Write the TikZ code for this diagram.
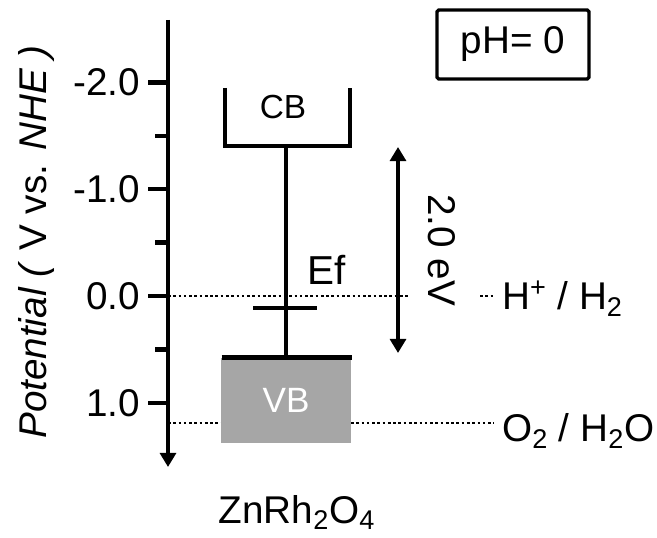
\documentclass[tikz,border=0pt]{standalone}
\usepackage{fontspec}
\setmainfont{Liberation Sans}
\usetikzlibrary{arrows.meta}

\begin{document}
\begin{tikzpicture}[>={Triangle[length=8pt,width=9pt]},line cap=butt,
  lbl/.style={font=\fontsize{22}{26}\selectfont},
  ticklbl/.style={font=\fontsize{22}{26}\selectfont,anchor=east},
  bandline/.style={line width=2.5pt},
  dotline/.style={line width=1.6pt,dash pattern=on 1.5pt off 1.5pt}]
\useasboundingbox (0,0) rectangle (13.14,10.74);
% potential axis
\coordinate (ytop) at (3.36,10.34);
\coordinate (ybot) at (3.36,1.40);
\draw[->,line width=2.5pt] (ytop) -- (ybot);
\draw[line width=2.5pt] (2.96,9.092) -- (3.36,9.092);
\draw[line width=2.5pt] (3.10,8.024) -- (3.36,8.024);
\draw[line width=2.5pt] (2.96,6.956) -- (3.36,6.956);
\draw[line width=2.5pt] (3.10,5.888) -- (3.36,5.888);
\draw[line width=2.5pt] (2.96,4.820) -- (3.36,4.820);
\draw[line width=2.5pt] (3.10,3.752) -- (3.36,3.752);
\draw[line width=2.5pt] (2.96,2.684) -- (3.36,2.684);
\node[ticklbl] (tm2) at (2.92,9.092) {-2.0};
\node[ticklbl] (tm1) at (2.92,6.956) {-1.0};
\node[ticklbl] (t0) at (2.92,4.820) {0.0};
\node[ticklbl] (t1) at (2.92,2.684) {1.0};
\node[lbl,rotate=90] (ylabel) at (0.72,5.90) {\textit{Potential (} V vs. \textit{NHE )}};
% redox levels
\coordinate (h0) at (3.36,4.82);
\coordinate (h1) at (8.16,4.82);
\coordinate (h2) at (9.60,4.82);
\coordinate (h3) at (9.88,4.82);
\coordinate (o0) at (3.36,2.28);
\coordinate (o1) at (4.42,2.28);
\coordinate (o2) at (7.02,2.28);
\coordinate (o3) at (9.88,2.28);
\draw[dotline] (h0) -- (h1);
\draw[dotline] (h2) -- (h3);
\draw[dotline] (o0) -- (o1);
\draw[dotline] (o2) -- (o3);
\node[lbl,anchor=base west] (hlbl) at (9.92,4.54) {H\textsuperscript{+} / H\textsubscript{2}};
\node[lbl,anchor=base west] (olbl) at (9.92,1.90) {O\textsubscript{2} / H\textsubscript{2}O};
% valence band
\node[fill=black!35,text=white,minimum width=2.6cm,minimum height=1.7cm,inner sep=0pt,
  font=\fontsize{20}{24}\selectfont] (vb) at (5.72,2.73) {VB};
\draw[line width=3pt] ([xshift=0.02cm]vb.north west) -- ([xshift=0.02cm]vb.north east);
% conduction band
\coordinate (cbtl) at (4.50,8.98);
\coordinate (cbbl) at (4.50,7.82);
\coordinate (cbbr) at (7.00,7.82);
\coordinate (cbtr) at (7.00,8.98);
\coordinate (cbmid) at (5.72,7.82);
\draw[bandline] (cbtl) -- (cbbl) -- (cbbr) -- (cbtr);
\node[font=\fontsize{19}{22}\selectfont] (cb) at (5.66,8.60) {CB};
\draw[line width=2.2pt] (cbmid) -- (vb.north);
% fermi level
\coordinate (efl) at (5.06,4.58);
\coordinate (efr) at (6.34,4.58);
\draw[line width=2.4pt] (efl) -- (efr);
\node[font=\fontsize{23}{27}\selectfont] (ef) at (6.54,5.34) {Ef};
% band gap
\coordinate (gtop) at (7.96,7.80);
\coordinate (gbot) at (7.96,3.68);
\draw[<->,line width=2.4pt] (gtop) -- (gbot);
\node[lbl,rotate=-90] (gap) at (8.84,5.74) {2.0 eV};
% labels
\node[lbl,draw,line width=1.9pt,rounded corners=1pt,minimum width=3.04cm,minimum height=1.38cm] (ph) at (10.26,9.85) {pH= 0};
\node[lbl,anchor=base] (mat) at (5.94,0.28) {ZnRh\textsubscript{2}O\textsubscript{4}};
\end{tikzpicture}
\end{document}
